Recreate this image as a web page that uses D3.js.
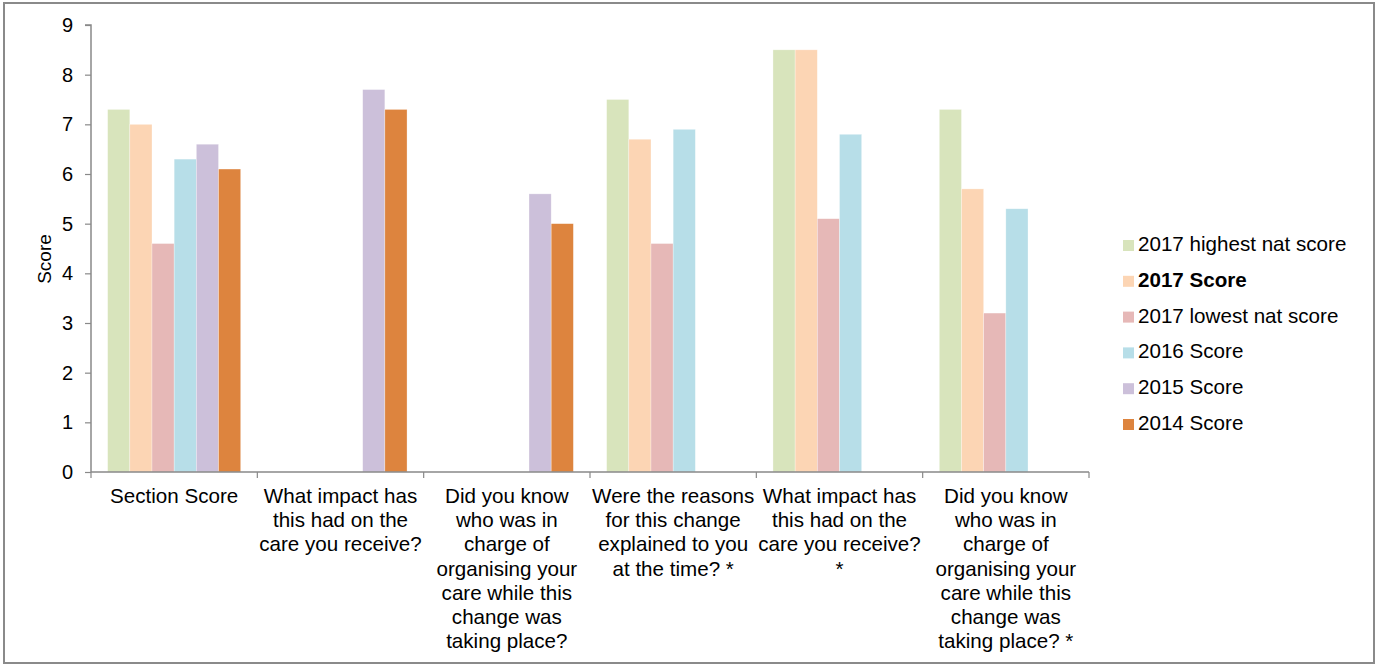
<!DOCTYPE html>
<html>
<head>
<meta charset="utf-8">
<script src="https://cdn.jsdelivr.net/npm/d3@7"></script>
<style>
  html, body { margin: 0; padding: 0; background: #fff; }
  svg { display: block; font-family: "Liberation Sans", Arial, sans-serif; }
</style>
</head>
<body>
<svg id="chart" width="1378" height="668"></svg>
<script>
// Question labels, one entry per line of the wrapped label
const categories = [
  ["Section Score"],
  ["What impact has", "this had on the", "care you receive?"],
  ["Did you know", "who was in", "charge of", "organising your", "care while this", "change was", "taking place?"],
  ["Were the reasons", "for this change", "explained to you", "at the time? *"],
  ["What impact has", "this had on the", "care you receive?", "*"],
  ["Did you know", "who was in", "charge of", "organising your", "care while this", "change was", "taking place? *"]
];

const seriesNames = [
  "2017 highest nat score",
  "2017 Score",
  "2017 lowest nat score",
  "2016 Score",
  "2015 Score",
  "2014 Score"
];

const seriesColors = ["#d8e4bc", "#fcd5b4", "#e6b8b7", "#b7dee8", "#ccc0da", "#dd843e"];

// Scores per series, one value per question (null = no score)
const highest2017 = [7.3, null, null, 7.5, 8.5, 7.3];
const score2017   = [7.0, null, null, 6.7, 8.5, 5.7];
const lowest2017  = [4.6, null, null, 4.6, 5.1, 3.2];
const score2016   = [6.3, null, null, 6.9, 6.8, 5.3];
const score2015   = [6.6, 7.7, 5.6, null, null, null];
const score2014   = [6.1, 7.3, 5.0, null, null, null];

const yTicks = [0, 1, 2, 3, 4, 5, 6, 7, 8, 9];

const seriesValues = [highest2017, score2017, lowest2017, score2016, score2015, score2014];

const svg = d3.select("#chart");
const axisColor = "#898989";
const fontSize = 20.6;

// outer frame
svg.append("rect")
  .attr("x", 4).attr("y", 3)
  .attr("width", 1370).attr("height", 660)
  .attr("fill", "none")
  .attr("stroke", "#8a8a8a")
  .attr("stroke-width", 2);

const plot = { left: 91, right: 1089, top: 25, bottom: 472 };

const catIdx = categories.map((d, i) => i);
const x0 = d3.scaleBand().domain(catIdx).range([plot.left, plot.right]).padding(0);
const groupPad = x0.bandwidth() * 0.1;
const x1 = d3.scaleBand().domain(d3.range(seriesNames.length))
  .range([groupPad, x0.bandwidth() - groupPad]).padding(0);
const y = d3.scaleLinear().domain([0, 9]).range([plot.bottom, plot.top]);

// bars
const groups = svg.append("g").selectAll("g")
  .data(catIdx).join("g")
  .attr("transform", i => `translate(${x0(i)},0)`);

groups.selectAll("rect")
  .data(ci => seriesValues.map((vals, si) => ({ si, v: vals[ci] })).filter(d => d.v != null))
  .join("rect")
  .attr("x", d => x1(d.si))
  .attr("width", x1.bandwidth())
  .attr("y", d => y(d.v))
  .attr("height", d => y(0) - y(d.v))
  .attr("fill", d => seriesColors[d.si])
  .attr("stroke", "#ffffff")
  .attr("stroke-opacity", 0.5)
  .attr("stroke-width", 0.6);

// y axis
const yAxis = svg.append("g")
  .attr("transform", `translate(${plot.left},0)`)
  .call(d3.axisLeft(y).tickValues(yTicks).tickSize(6).tickPadding(12).tickFormat(d3.format("d")));
yAxis.select(".domain").attr("stroke", axisColor).attr("stroke-width", 1.5)
  .attr("d", `M-6,${y(9)}H0V${y(0)}`);
yAxis.selectAll(".tick line").attr("stroke", axisColor).attr("stroke-width", 1.2);
yAxis.selectAll(".tick text")
  .attr("font-size", 20)
  .attr("font-family", "Liberation Sans, Arial, sans-serif")
  .attr("fill", "#000");

// x axis line and category separators
const xAxis = svg.append("g");
xAxis.append("line")
  .attr("x1", plot.left).attr("x2", plot.right)
  .attr("y1", plot.bottom).attr("y2", plot.bottom)
  .attr("stroke", axisColor).attr("stroke-width", 1.5);
const bounds = catIdx.map(i => x0(i)).concat([plot.right]);
xAxis.selectAll("line.sep")
  .data(bounds).join("line")
  .attr("class", "sep")
  .attr("x1", d => d).attr("x2", d => d)
  .attr("y1", plot.bottom).attr("y2", plot.bottom + 6)
  .attr("stroke", axisColor).attr("stroke-width", 1.2);

// category labels
const lineH = 24.2;
xAxis.selectAll("text.cat")
  .data(catIdx).join("text")
  .attr("class", "cat")
  .attr("text-anchor", "middle")
  .attr("font-size", fontSize)
  .attr("fill", "#000")
  .each(function (i) {
    const t = d3.select(this);
    categories[i].forEach((line, k) => {
      t.append("tspan")
        .attr("x", x0(i) + x0.bandwidth() / 2)
        .attr("y", 503 + k * lineH)
        .text(line);
    });
  });

// y axis title
svg.append("text")
  .attr("transform", `translate(51,259) rotate(-90)`)
  .attr("text-anchor", "middle")
  .attr("font-size", 19)
  .attr("fill", "#000")
  .text("Score");

// legend
const legend = svg.append("g").attr("transform", "translate(1123,0)");
const legendRows = legend.selectAll("g")
  .data(seriesNames.map((name, i) => ({ name, i })))
  .join("g")
  .attr("transform", d => `translate(0,${251 + d.i * 35.8})`);
legendRows.append("rect")
  .attr("x", 0).attr("y", -11)
  .attr("width", 11).attr("height", 11)
  .attr("fill", d => seriesColors[d.i]);
legendRows.append("text")
  .attr("x", 15).attr("y", 0)
  .attr("font-size", fontSize)
  .attr("font-weight", d => d.i === 1 ? "bold" : "normal")
  .attr("fill", "#000")
  .text(d => d.name);
</script>
</body>
</html>
